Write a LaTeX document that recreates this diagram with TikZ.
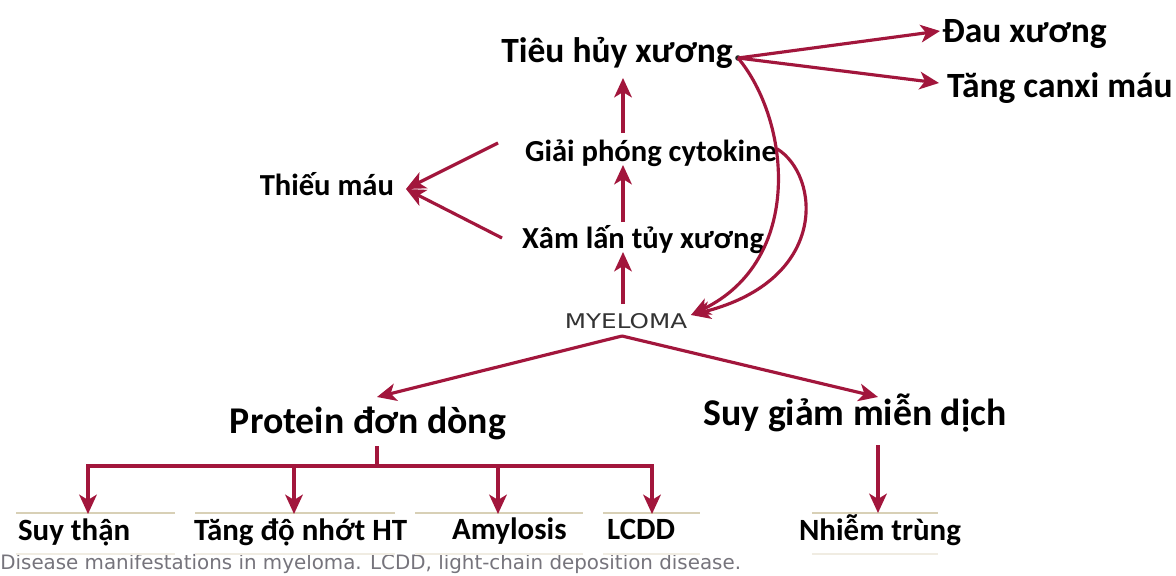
\documentclass[tikz,border=0pt]{standalone}
\usepackage{fontspec}
\setmainfont{Carlito}
\newfontfamily\capfont{DejaVu Sans}
\usetikzlibrary{arrows.meta,calc}
\definecolor{arr}{RGB}{162,22,60}
\definecolor{beige}{RGB}{216,208,182}
\definecolor{faint}{RGB}{240,236,226}
\definecolor{capgray}{RGB}{118,116,124}
\tikzset{
  big/.style={font=\bfseries\fontsize{20.2}{24}\selectfont, inner sep=1pt},
  mid/.style={font=\bfseries\fontsize{17.4}{20}\selectfont, inner sep=1pt},
  head/.style={font=\bfseries\fontsize{21.5}{25}\selectfont, inner sep=1pt},
  low/.style={font=\bfseries\fontsize{17.6}{20}\selectfont, inner sep=1pt},
  conn/.style={draw=arr, line width=1.8pt, -{Stealth[length=11pt,width=10pt,inset=3pt]}},
  plain/.style={draw=arr, line width=1.8pt},
  rule/.style={draw=beige, line width=1.3pt},
  frule/.style={draw=faint, line width=1pt}
}
\begin{document}
\begin{tikzpicture}[x=0.02cm,y=-0.02cm]
\useasboundingbox[fill=white] (0,0) rectangle (1176,575);
% nodes
\node[big,anchor=base] (tieu) at (617,62) {Tiêu hủy xương};
\node[big,anchor=base west] (dau) at (940,42) {Đau xương};
\node[big,anchor=base west] (tang) at (945,97) {Tăng canxi máu};
\node[mid,anchor=base west] (giai) at (523,161) {Giải phóng cytokine};
\node[mid,anchor=base east] (thieu) at (396,195) {Thiếu máu};
\node[mid,anchor=base west] (xam) at (520,248) {Xâm lấn tủy xương};
\node[font=\capfont\fontsize{11.5}{13}\selectfont, text=black!80, inner sep=1pt, anchor=base] (myel) at (626,328) {\scalebox{1.22}[1]{MYELOMA}};
\node[head,anchor=base] (prot) at (368,433) {Protein đơn dòng};
\node[head,anchor=base] (suy) at (855,425) {Suy giảm miễn dịch};
\node[low,anchor=base west] (st) at (16,540) {Suy thận};
\node[low,anchor=base west] (td) at (192,540) {Tăng độ nhớt HT};
\node[low,anchor=base west] (amy) at (450,539) {Amylosis};
\node[low,anchor=base west] (lcdd) at (605,539) {LCDD};
\node[low,anchor=base west] (nt) at (797,540) {Nhiễm trùng};
\node[font=\capfont\fontsize{11.3}{13}\selectfont, text=capgray, inner sep=0pt, anchor=base west] (cap) at (0,569) {Disease manifestations in myeloma. LCDD, light-chain deposition disease.};
% helper coordinates
\coordinate (dot) at (738,58);
\coordinate (g1) at (498,143);
\coordinate (x1) at (502,238);
\coordinate (tm) at (406,189);
\coordinate (my) at (691,315);
\coordinate (myb) at (622,336);
% rules under labels
\draw[rule] (16,513) -- (175,513);
\draw[rule] (195,513) -- (395,513);
\draw[rule] (415,513) -- (583,513);
\draw[rule] (603,513) -- (700,513);
\draw[rule] (812,513) -- (938,513);
\draw[frule] (16,554) -- (175,554);
\draw[frule] (195,554) -- (395,554);
\draw[frule] (415,554) -- (583,554);
\draw[frule] (603,554) -- (700,554);
\draw[frule] (812,554) -- (938,554);
% vertical chain
\draw[conn] (623,304) -- (623,252);
\draw[conn] (623,222) -- (623,165);
\draw[conn] (623,133) -- (623,78);
% anaemia
\draw[conn] (g1) -- (tm);
\draw[conn] (x1) -- (tm);
% bone
\fill[black!85] (dot) circle[radius=2.8];
\draw[conn] (dot) -- (dau.base west |- 0,31);
\draw[conn] (dot) -- ($(tang.base west)+(-6,-14)$);
\draw[conn] (dot) .. controls (790,120) and (805,260) .. (my);
\draw[conn] ($(giai.east)+(-2,-4)$) .. controls (820,175) and (830,280) .. (my);
% myeloma outputs
\draw[conn] (myb) -- (377,397);
\draw[conn] (myb) -- (878,397);
% protein branches
\draw[plain] (377,446) -- (377,466);
\draw[plain] (88,490) -- (88,466) -- (652,466) -- (652,490);
\draw[conn] (88,466) -- (88,514);
\draw[conn] (294,466) -- (294,514);
\draw[conn] (498,466) -- (498,514);
\draw[conn] (652,466) -- (652,514);
\draw[conn] (878,445) -- (878,513);
\end{tikzpicture}
\end{document}
